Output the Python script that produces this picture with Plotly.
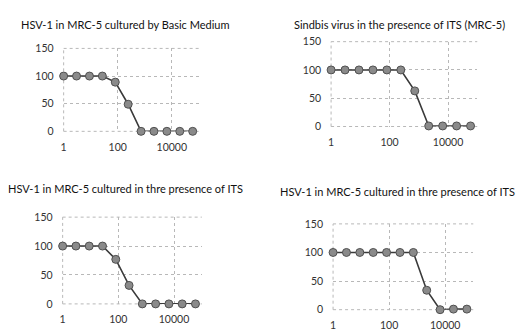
import plotly.graph_objects as go

W, H = 518, 334

dilution = [1, 3, 9, 27, 81, 243, 729, 2187, 6561, 19683, 59049]
panel_titles = [
    "HSV-1 in MRC-5 cultured by Basic Medium",
    "Sindbis virus in the presence of ITS (MRC-5)",
    "HSV-1 in MRC-5 cultured in thre presence of ITS",
    "HSV-1 in MRC-5 cultured in thre presence of ITS",
]
values_p1 = [100, 100, 100, 100, 89, 49, 0, 0, 0, 0, 0]
values_p2 = [100, 100, 100, 100, 100, 100, 63, 1, 1, 1, 1]
values_p3 = [100, 100, 100, 100, 77, 32, 0, 0, 0, 0, 0]
values_p4 = [100, 100, 100, 100, 100, 100, 100, 34, 0, 1, 1]
series = [values_p1, values_p2, values_p3, values_p4]

x_tickvals = [1, 100, 10000]
x_ticktext = ["1", "100", "10000"]
y_tickvals = [0, 50, 100, 150]

# plot boxes in pixels: left, right, top, bottom
boxes = [(61, 197, 44, 130), (330, 477, 37, 125), (60, 200, 219, 309), (332, 473, 226, 315)]
# title anchor position (px) and anchor side
title_pos = [(123.5, 19, "center"), (398.5, 19, "center"), (123.5, 189, "center"), (517, 192, "right")]

GRID = "#b8b8b8"
FONT = "Lato, Liberation Sans, sans-serif"

fig = go.Figure()
for i, (vals, box) in enumerate(zip(series, boxes)):
    n = i + 1
    xa = "x" if n == 1 else f"x{n}"
    ya = "y" if n == 1 else f"y{n}"
    l, r, t, b = box
    xkey = "xaxis" if n == 1 else f"xaxis{n}"
    ykey = "yaxis" if n == 1 else f"yaxis{n}"
    fig.layout[xkey] = dict(
        type="log", range=[0, 5], domain=[l / W, r / W], anchor=ya,
        tickvals=x_tickvals, ticktext=x_ticktext,
        showgrid=True, gridcolor=GRID, griddash="dot", gridwidth=1,
        showline=False, zeroline=False, ticks="", ticklabelstandoff=8,
        tickfont=dict(family=FONT, size=10.5, color="#333333"),
        fixedrange=True,
    )
    fig.layout[ykey] = dict(
        range=[0, 150], domain=[1 - b / H, 1 - t / H], anchor=xa,
        tickvals=y_tickvals,
        showgrid=True, gridcolor=GRID, griddash="dot", gridwidth=1,
        showline=False, zeroline=False, ticks="", ticklabelstandoff=9,
        tickfont=dict(family=FONT, size=10.5, color="#333333"),
        fixedrange=True,
    )
    # edge lines (left, bottom, top) drawn dotted like the grid
    for x0, y0, x1, y1 in [(0, 0, 0, 1), (0, 0, 1, 0), (0, 1, 1, 1)]:
        fig.add_shape(type="line", xref=f"{xa} domain", yref=f"{ya} domain",
                      x0=x0, y0=y0, x1=x1, y1=y1, layer="below",
                      line=dict(color=GRID, width=1, dash="dot"))
    fig.add_trace(go.Scatter(
        x=dilution, y=vals, xaxis=xa, yaxis=ya, mode="lines+markers",
        line=dict(color="#3a3a3a", width=1.6),
        marker=dict(symbol="circle", size=8, color="#8a8a8a", line=dict(color="#505050", width=1)),
        showlegend=False, cliponaxis=False,
    ))

for (cx, cy, anchor), txt in zip(title_pos, panel_titles):
    fig.add_annotation(
        x=cx / W, y=1 - cy / H, xref="paper", yref="paper", text=txt,
        showarrow=False, xanchor=anchor, yanchor="middle",
        font=dict(family=FONT, size=11, color="#111111"),
    )

fig.update_layout(
    width=W, height=H, margin=dict(l=0, r=0, t=0, b=0),
    paper_bgcolor="white", plot_bgcolor="white",
)

fig.write_html("out.html")
